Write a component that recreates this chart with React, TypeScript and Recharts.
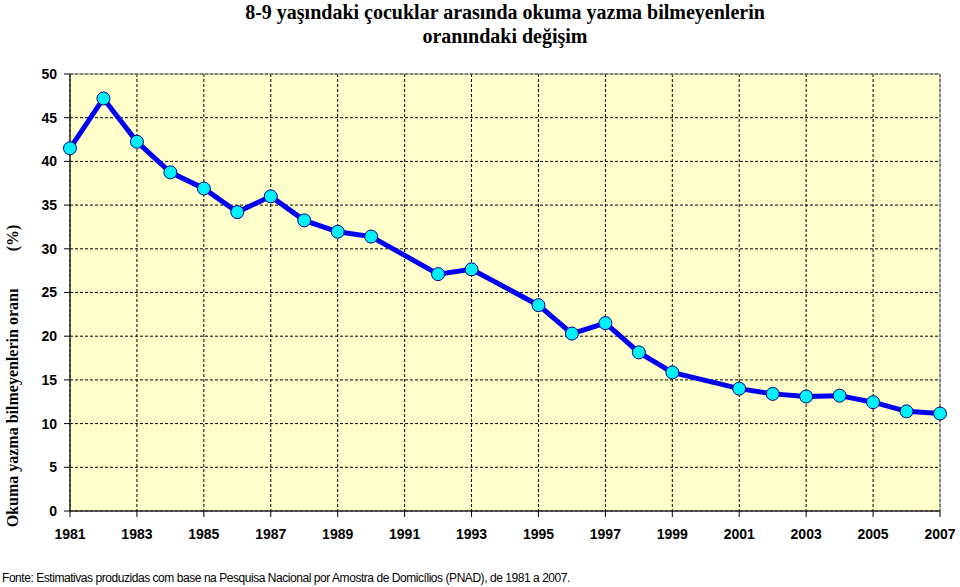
import React from 'react';
import {
  LineChart,
  Line,
  XAxis,
  YAxis,
  CartesianGrid,
  ReferenceArea
} from 'recharts';

const years = [
  1981, 1982, 1983, 1984, 1985, 1986, 1987, 1988, 1989, 1990,
  1992, 1993, 1995, 1996, 1997, 1998, 1999,
  2001, 2002, 2003, 2004, 2005, 2006, 2007
];

const rates = [
  41.5, 47.2, 42.25, 38.75, 36.9, 34.2, 36.0, 33.25, 31.95, 31.4,
  27.1, 27.65, 23.55, 20.3, 21.5, 18.15, 15.85,
  14.0, 13.4, 13.1, 13.2, 12.45, 11.4, 11.15
];

const xTicks = [1981, 1983, 1985, 1987, 1989, 1991, 1993, 1995, 1997, 1999, 2001, 2003, 2005, 2007];
const yTicks = [0, 5, 10, 15, 20, 25, 30, 35, 40, 45, 50];

const titleLines = [
  '8-9 yaşındaki çocuklar arasında okuma yazma bilmeyenlerin',
  'oranındaki değişim'
];
const yLabel = 'Okuma yazma bilmeyenlerin oranı';
const yUnit = '(%)';
const source = 'Fonte: Estimativas produzidas com base na Pesquisa Nacional por Amostra de Domicílios (PNAD), de 1981 a 2007.';

const data = years.map((year, i) => ({ year, rate: rates[i] }));

const serif = '"Liberation Serif", "Times New Roman", serif';
const sans = '"Liberation Sans", Arial, sans-serif';

export default function App() {
  return (
    <div style={{ position: 'absolute', left: 0, top: 0, width: 960, height: 587, background: '#fff' }}>
      <LineChart
        width={960}
        height={587}
        data={data}
        margin={{ top: 74, right: 20, left: 0, bottom: 0 }}
      >
        <CartesianGrid
          stroke="#000"
          strokeDasharray="3 2"
          fill="#FFFFCC"
          verticalValues={xTicks}
          horizontalValues={yTicks}
        />
        <ReferenceArea x1={1981} x2={2007} y1={0} y2={50} fill="none" stroke="#888" strokeWidth={1} ifOverflow="visible" />
        <XAxis
          dataKey="year"
          type="number"
          domain={[1981, 2007]}
          ticks={xTicks}
          interval={0}
          height={76}
          stroke="#000"
          tickSize={6}
          tickMargin={12}
          tick={{ fill: '#000', fontFamily: sans, fontSize: 14, fontWeight: 'bold' }}
        />
        <YAxis
          type="number"
          domain={[0, 50]}
          ticks={yTicks}
          interval={0}
          width={70}
          stroke="#000"
          tickSize={6}
          tickMargin={7}
          tick={{ fill: '#000', fontFamily: sans, fontSize: 14, fontWeight: 'bold' }}
        />
        <Line
          type="linear"
          dataKey="rate"
          stroke="#0000F0"
          strokeWidth={5}
          dot={{ r: 6.5, fill: '#00F0FF', stroke: '#000080', strokeWidth: 1 }}
          isAnimationActive={false}
        />
      </LineChart>

      <svg width={960} height={587} style={{ position: 'absolute', left: 0, top: 0, pointerEvents: 'none' }}>
        {titleLines.map((line, i) => (
          <text
            key={i}
            x={505}
            y={19 + i * 24}
            textAnchor="middle"
            fontFamily={serif}
            fontWeight="bold"
            fontSize={20}
            fill="#000"
          >
            {line}
          </text>
        ))}
        <text
          transform="translate(18,408) rotate(-90)"
          textAnchor="middle"
          fontFamily={serif}
          fontWeight="bold"
          fontSize={16}
          fill="#000"
        >
          {yLabel}
        </text>
        <text
          transform="translate(18,238) rotate(-90)"
          textAnchor="middle"
          fontFamily={serif}
          fontWeight="bold"
          fontSize={16}
          fill="#000"
        >
          {yUnit}
        </text>
        <text x={2} y={582} fontFamily={sans} fontSize={12} letterSpacing={-0.45} fill="#000">
          {source}
        </text>
      </svg>
    </div>
  );
}
